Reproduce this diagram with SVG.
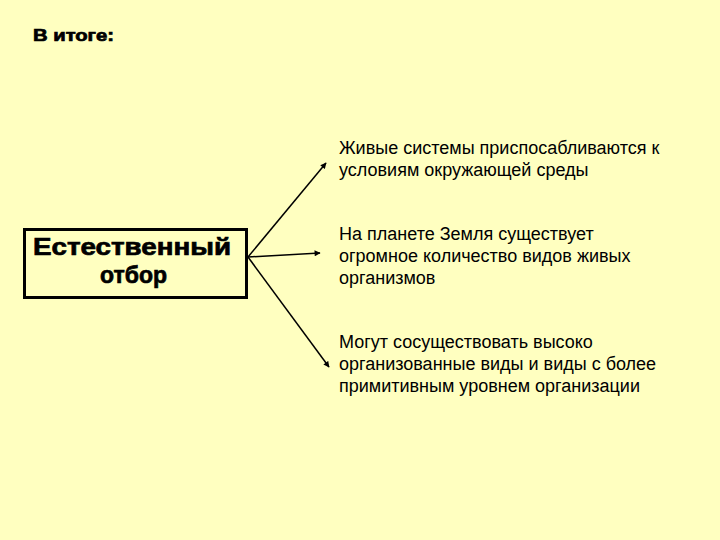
<svg xmlns="http://www.w3.org/2000/svg" width="720" height="540" viewBox="0 0 720 540">
<defs>
<style>
.t{font-family:"Liberation Sans",Arial,sans-serif;font-size:18px;fill:#000}
.b{font-family:"Liberation Sans",Arial,sans-serif;font-weight:bold;fill:#000;stroke:#000;stroke-width:0.7}
.c{stroke:#000;stroke-width:1.5;fill:none;marker-end:url(#ah)}
</style>
<marker id="ah" viewBox="0 0 10 10" refX="9" refY="5" markerWidth="7" markerHeight="6" orient="auto" markerUnits="userSpaceOnUse">
<path d="M0,0 L10,5 L0,10 z" fill="#000"/>
</marker>
</defs>
<rect width="720" height="540" fill="#FFFFC0"/>
<g id="title"><text class="b" x="33" y="41" font-size="16" textLength="81" lengthAdjust="spacingAndGlyphs">В итоге:</text></g>
<g id="node-main">
<rect x="24.5" y="229.5" width="222" height="68" fill="none" stroke="#000" stroke-width="3"/>
<text class="b" x="33" y="255" font-size="24" textLength="198" lengthAdjust="spacingAndGlyphs">Естественный</text>
<text class="b" x="100" y="283" font-size="24" textLength="67" lengthAdjust="spacingAndGlyphs">отбор</text>
</g>
<g id="node-1"><text class="t"><tspan x="339" y="154">Живые системы приспосабливаются к</tspan><tspan x="339" y="176">условиям окружающей среды</tspan></text></g>
<g id="node-2"><text class="t"><tspan x="339" y="240">На планете Земля существует</tspan><tspan x="339" y="262">огромное количество видов живых</tspan><tspan x="339" y="284">организмов</tspan></text></g>
<g id="node-3"><text class="t"><tspan x="339" y="348">Могут сосуществовать высоко</tspan><tspan x="339" y="370">организованные виды и виды с более</tspan><tspan x="339" y="392">примитивным уровнем организации</tspan></text></g>
<g id="connectors">
<line class="c" x1="248" y1="257" x2="326" y2="163"/>
<line class="c" x1="248" y1="257" x2="320" y2="253"/>
<line class="c" x1="248" y1="257" x2="329" y2="367"/>
</g>
</svg>
